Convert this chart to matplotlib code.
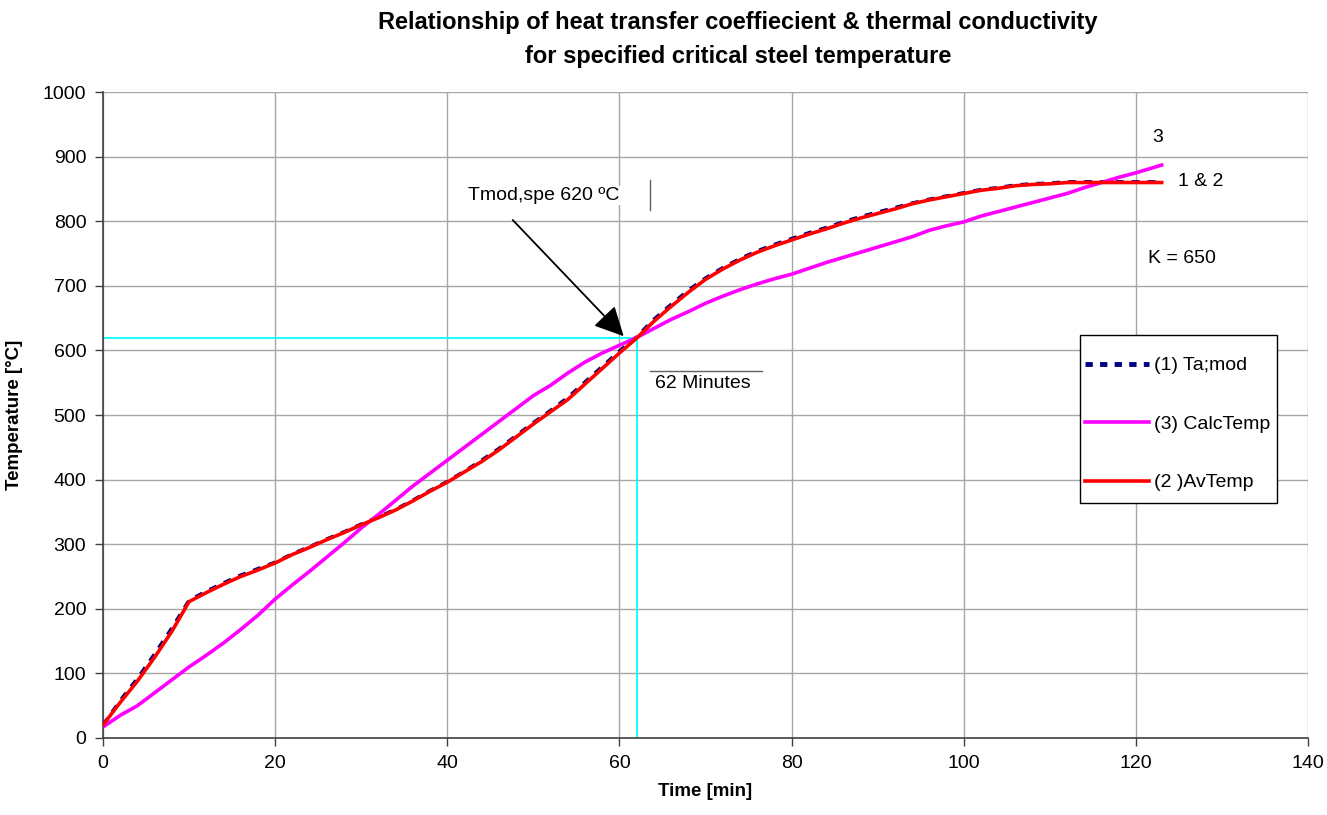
import matplotlib
matplotlib.use("Agg")
import matplotlib.pyplot as plt
from matplotlib.lines import Line2D
from matplotlib.patches import Rectangle

plt.rcParams['font.family'] = ['Liberation Sans', 'DejaVu Sans']

# time points [min]
time = [0, 2, 4, 6, 8, 10, 12, 14, 16, 18, 20, 22, 24, 26, 28, 30, 32, 34, 36, 38,
        40, 42, 44, 46, 48, 50, 52, 54, 56, 58, 60, 62, 64, 66, 68, 70, 72, 74, 76, 78,
        80, 82, 84, 86, 88, 90, 92, 94, 96, 98, 100, 102, 104, 106, 108, 110, 112, 114,
        116, 118, 120, 122, 123]

# (1) Ta;mod
ta_mod = [20, 58, 92, 130, 170, 213, 227, 240, 252, 262, 272, 285, 296, 308, 319, 331,
          342, 354, 368, 383, 397, 413, 430, 448, 468, 488, 507, 527, 551, 575, 599, 621,
          648, 671, 693, 712, 728, 742, 754, 764, 773, 782, 790, 799, 807, 814, 821, 828,
          834, 839, 844, 849, 852, 856, 858, 859, 861, 861, 861, 861, 861, 861, 861]

# (2) AvTemp
av_temp = [20, 55, 88, 125, 165, 211, 225, 238, 250, 260, 271, 284, 295, 307, 318, 330,
           341, 353, 367, 382, 396, 412, 428, 446, 466, 486, 505, 524, 548, 572, 596, 619,
           645, 668, 690, 710, 726, 740, 752, 762, 771, 780, 788, 797, 805, 812, 819, 827,
           833, 838, 843, 848, 851, 855, 857, 858, 860, 860, 860, 860, 860, 860, 860]

# (3) CalcTemp
calc_temp = [17, 35, 50, 70, 90, 110, 128, 147, 168, 190, 215, 237, 258, 280, 302, 325,
             346, 368, 390, 410, 430, 450, 470, 490, 510, 530, 546, 565, 582, 596, 608, 620,
             634, 648, 660, 673, 684, 694, 703, 711, 718, 727, 736, 744, 752, 760, 768, 776,
             786, 793, 799, 808, 815, 822, 829, 836, 843, 852, 860, 868, 875, 883, 887]

t_crit = 62
temp_crit = 620

fig = plt.figure(figsize=(13.27, 8.15), dpi=100)
ax = fig.add_axes([0.0776, 0.0945, 0.9081, 0.7925])

ax.plot(time, ta_mod, color='#000080', lw=2.6, ls=(0, (2.2, 2.2)), zorder=3)
ax.plot(time, calc_temp, color='#ff00ff', lw=2.6, zorder=4)
ax.plot(time, av_temp, color='#ff0000', lw=2.6, zorder=5)

# critical temperature guide lines
ax.plot([0, t_crit], [temp_crit, temp_crit], color='#00ffff', lw=1.3, zorder=2)
ax.plot([t_crit, t_crit], [0, temp_crit], color='#00ffff', lw=1.3, zorder=2)

ax.set_xlim(0, 140)
ax.set_ylim(0, 1000)
ax.set_xticks(range(0, 141, 20))
ax.set_yticks(range(0, 1001, 100))
ax.grid(True, color='#a6a6a6', lw=1)
ax.set_axisbelow(True)
ax.tick_params(direction='out', length=6, width=1, color='#404040', labelsize=14, pad=6)
for s in ['top', 'right']:
    ax.spines[s].set_visible(False)
for s in ['left', 'bottom']:
    ax.spines[s].set_color('#404040')
    ax.spines[s].set_linewidth(1.2)

ax.set_xlabel('Time [min]', fontsize=13.5, fontweight='bold', labelpad=8)
ax.set_ylabel('Temperature [°C]', fontsize=13.5, fontweight='bold', labelpad=14)

fig.text(0.556, 0.986, 'Relationship of heat transfer coeffiecient & thermal conductivity\n'
         'for specified critical steel temperature', ha='center', va='top',
         fontsize=17, fontweight='bold', linespacing=1.6)

# annotations
ax.text(51.2, 840, 'Tmod,spe 620 ºC', fontsize=14, ha='center', va='center',
        bbox=dict(facecolor='white', edgecolor='none', pad=1), zorder=6)
ax.plot([63.55, 63.55], [817, 864], color='#606060', lw=1, zorder=6)
ax.annotate('', xy=(60.5, 622), xytext=(47.6, 802),
            arrowprops=dict(arrowstyle='-|>', color='black', lw=1.3, mutation_scale=45,
                            shrinkA=0, shrinkB=0), zorder=7)
ax.plot([63.6, 76.6], [568, 568], color='#606060', lw=1, zorder=6)
ax.text(64.1, 549, '62 Minutes', fontsize=14, ha='left', va='center', zorder=6)
ax.text(122.5, 929, '3', fontsize=14, ha='center', va='center')
ax.text(124.9, 861, '1 & 2', fontsize=14, ha='left', va='center')
ax.text(121.4, 743, 'K = 650', fontsize=14, ha='left', va='center')

# legend box
ax.add_patch(Rectangle((0.811, 0.364), 0.163, 0.26, transform=ax.transAxes,
                       facecolor='white', edgecolor='black', lw=1, zorder=8))
handles = [
    Line2D([], [], color='#000080', lw=3.5, ls=(0, (1.5, 1.5))),
    Line2D([], [], color='#ff00ff', lw=2.6),
    Line2D([], [], color='#ff0000', lw=2.6),
]
labels = ['(1) Ta;mod', '(3) CalcTemp', '(2 )AvTemp']
leg = ax.legend(handles, labels, loc='center left', bbox_to_anchor=(0.8125, 0.486),
                fontsize=14, handlelength=3.3, handletextpad=0.25, labelspacing=2.1,
                borderpad=0.15, borderaxespad=0, frameon=False)
leg.set_zorder(9)

fig.savefig('out.png', dpi=100)
